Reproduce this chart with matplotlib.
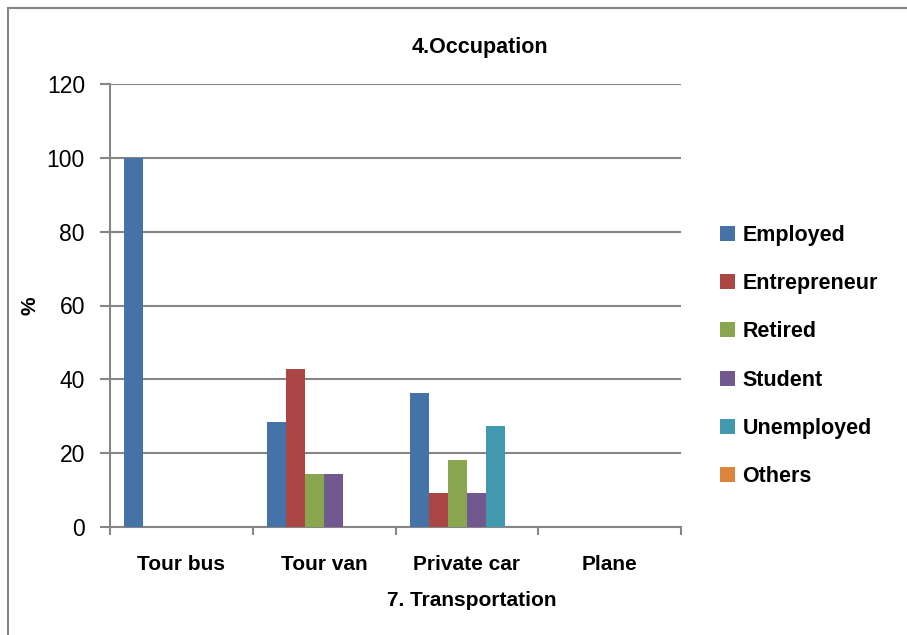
import matplotlib
matplotlib.use("Agg")
import matplotlib.pyplot as plt
import numpy as np
from matplotlib.patches import Rectangle

plt.rcParams["font.family"] = ["Liberation Sans", "DejaVu Sans"]

categories = ["Tour bus", "Tour van", "Private car", "Plane"]
series = ["Employed", "Entrepreneur", "Retired", "Student", "Unemployed", "Others"]
employed = [100, 28.57, 36.36, 0]
entrepreneur = [0, 42.86, 9.09, 0]
retired = [0, 14.29, 18.18, 0]
student = [0, 14.29, 9.09, 0]
unemployed = [0, 0, 27.27, 0]
others = [0, 0, 0, 0]
colors = ["#4572A7", "#AA4643", "#89A54E", "#71588F", "#4198AF", "#DB843D"]

values = [employed, entrepreneur, retired, student, unemployed, others]
GRID = "#868686"

fig = plt.figure(figsize=(9.07, 6.35), dpi=100)
ax = fig.add_axes([110 / 907, 1 - 527 / 635, 571 / 907, 443 / 635])

# excel-ish gap width 150%: 6 bars + 1.5 bar gap per category
w = 1 / 7.5
x = np.arange(len(categories))
for i, (name, vals) in enumerate(zip(series, values)):
    ax.bar(x - 0.5 + 0.75 * w + (i + 0.5) * w, vals, width=w,
           color=colors[i], label=name, zorder=3, linewidth=0)

ax.set_xlim(-0.5, len(categories) - 0.5)
ax.set_ylim(0, 120)
ax.set_yticks(range(0, 121, 20))
ax.yaxis.grid(True, color=GRID, linewidth=1.5)
ax.set_axisbelow(True)

ax.set_xticks(x)
ax.set_xticklabels(categories, fontweight="bold", fontsize=15)
ax.set_xticks(np.arange(len(categories) + 1) - 0.5, minor=True)
ax.tick_params(axis="x", which="major", length=0, pad=20)
ax.tick_params(axis="x", which="minor", length=6, width=1.5, color=GRID)
ax.tick_params(axis="y", length=7, width=1.5, color=GRID, labelsize=16.5, pad=11)

for s in ["top", "right"]:
    ax.spines[s].set_visible(False)
for s in ["left", "bottom"]:
    ax.spines[s].set_color(GRID)
    ax.spines[s].set_linewidth(1.5)

ax.set_xlabel("7. Transportation", fontweight="bold", fontsize=15)
ax.xaxis.set_label_coords((472 - 110) / 571, (527 - 601) / 443)
ax.xaxis.label.set_va("center")
ax.set_ylabel("%", fontweight="bold", fontsize=15)
ax.yaxis.set_label_coords((30 - 110) / 571, 0.5)
ax.yaxis.label.set_va("center")

fig.text(480 / 907, 1 - 47 / 635, "4.Occupation", ha="center", va="center",
         fontweight="bold", fontsize=15.5)

ax.legend(loc="center left", bbox_to_anchor=(1.053, 0.386), frameon=False,
          prop={"weight": "bold", "size": 15.5}, handlelength=0.7,
          handleheight=0.7, handletextpad=0.35, labelspacing=1.27,
          borderaxespad=0)

# outer chart border (right/bottom fall outside the canvas)
fig.patches.append(Rectangle((8 / 907, -0.1), 2, 1.1 - 8 / 635,
                             transform=fig.transFigure, fill=False,
                             edgecolor=GRID, linewidth=1.5))

fig.savefig("out.png", dpi=100)
